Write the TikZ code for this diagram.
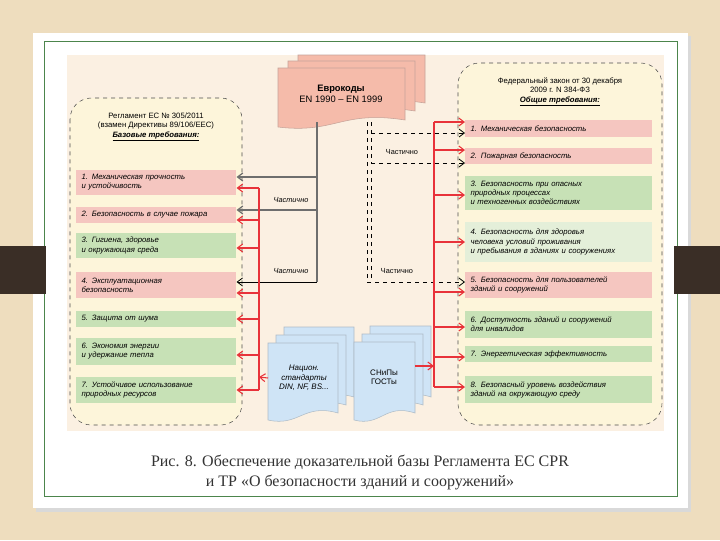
\documentclass[tikz,border=0pt]{standalone}
\usepackage{fontspec}
\setmainfont{Liberation Sans}
\newfontfamily\capfont{Liberation Serif}
\usetikzlibrary{arrows.meta}
\definecolor{woodc}{HTML}{EEDDBE}
\definecolor{diagbg}{HTML}{FBF0E2}
\definecolor{contc}{HTML}{FDF5DA}
\definecolor{pinkc}{HTML}{F5C6C0}
\definecolor{greenc}{HTML}{C7E1B6}
\definecolor{lgreenc}{HTML}{E4EFD9}
\definecolor{euroc}{HTML}{F5BBAA}
\definecolor{bluec}{HTML}{CFE4F6}
\definecolor{barc}{HTML}{3A2E26}
\definecolor{redc}{HTML}{E8323A}
\definecolor{grayc}{HTML}{6E6E6E}
\newcommand\mydoc[5]{% x1 y1 x2 y2 fill
  \filldraw[draw=#5!60!gray, fill=#5, line width=0.4pt]
    (#1,#2) -- (#3,#2) -- (#3,#4-4)
    .. controls ({#3-0.5*(#3-#1)},#4-14) and ({#1+0.45*(#3-#1)},#4+10) .. (#1,#4+3) -- cycle;}
\tikzset{
  item/.style={anchor=west, minimum width=120pt, text width=112pt, align=left, inner sep=3pt,
    font=\fontsize{5.8}{6.8}\selectfont\itshape},
  ritem/.style={item, minimum width=140pt, text width=132pt},
  ttl/.style={align=center, font=\fontsize{5.8}{7}\selectfont},
  cont/.style={draw=black!70, dashed, line width=0.4pt, rounded corners=16pt, fill=contc},
  redarr/.style={draw=redc, line width=0.8pt, -{Straight Barb[length=4pt,width=6pt]}},
  blkarr/.style={draw=black, line width=0.6pt, -{Straight Barb[length=4pt,width=6pt]}},
  gryarr/.style={draw=grayc, line width=0.9pt, -{Straight Barb[length=4pt,width=6pt]}},
  dasharr/.style={draw=black, dashed, line width=0.6pt, -{Straight Barb[length=4pt,width=6pt]}},
  lbl/.style={font=\fontsize{5.5}{6}\selectfont\itshape, inner sep=1pt},
}
\begin{document}
\begin{tikzpicture}[x=0.75pt,y=-0.75pt]
\useasboundingbox (0,0) rectangle (720,540);
\fill[woodc] (0,0) rectangle (720,540);
\fill[black!15] (36,36) rectangle (691,512);
\fill[white] (33,33) rectangle (688,508);
\draw[black!45!green!40!gray, line width=0.5pt] (44,41) rectangle (677,496);
\fill[barc] (0,246) rectangle (46,294);
\fill[barc] (674,246) rectangle (720,294);
\fill[diagbg] (67,55) rectangle (664,431);
% containers
\path[cont] (70,98) rectangle (242,425);
\path[cont] (458,63) rectangle (662,425);
\node[ttl] (ltitle) at (156,127) {Регламент ЕС № 305/2011\\(взамен Директивы 89/106/ЕЕС)\\\textbf{\textit{\underline{Базовые требования:}}}};
\node[ttl] (rtitle) at (560,92) {Федеральный закон от 30 декабря\\2009 г. N 384-ФЗ\\\textbf{\textit{\underline{Общие требования:}}}};
% left items
\node[item, fill=pinkc, minimum height=19pt] (l1) at (76,182.5) {1. Механическая прочность\\и устойчивость};
\node[item, fill=pinkc, minimum height=12pt] (l2) at (76,214.5) {2. Безопасность в случае пожара};
\node[item, fill=greenc, minimum height=19pt] (l3) at (76,245.5) {3. Гигиена, здоровье\\и окружающая среда};
\node[item, fill=pinkc, minimum height=19pt] (l4) at (76,285) {4. Эксплуатационная\\безопасность};
\node[item, fill=greenc, minimum height=12pt] (l5) at (76,319) {5. Защита от шума};
\node[item, fill=greenc, minimum height=20pt] (l6) at (76,351.5) {6. Экономия энергии\\и удержание тепла};
\node[item, fill=greenc, minimum height=20pt] (l7) at (76,390) {7. Устойчивое использование\\природных ресурсов};
% right items
\node[ritem, fill=pinkc, minimum height=13pt] (r1) at (465,128.5) {1. Механическая безопасность};
\node[ritem, fill=pinkc, minimum height=12pt] (r2) at (465,156) {2. Пожарная безопасность};
\node[ritem, fill=greenc, minimum height=26pt] (r3) at (465,193) {3. Безопасность при опасных\\природных процессах\\и техногенных воздействиях};
\node[ritem, fill=lgreenc, minimum height=30pt] (r4) at (465,242) {4. Безопасность для здоровья\\человека условий проживания\\и пребывания в зданиях и сооружениях};
\node[ritem, fill=pinkc, minimum height=19pt] (r5) at (465,285) {5. Безопасность для пользователей\\зданий и сооружений};
\node[ritem, fill=greenc, minimum height=20pt] (r6) at (465,324.5) {6. Доступность зданий и сооружений\\для инвалидов};
\node[ritem, fill=greenc, minimum height=12pt] (r7) at (465,354) {7. Энергетическая эффективность};
\node[ritem, fill=greenc, minimum height=20pt] (r8) at (465,389.5) {8. Безопасный уровень воздействия\\зданий на окружающую среду};
% eurocodes
\mydoc{298}{55}{425}{107}{euroc}
\mydoc{288}{61}{415}{115}{euroc}
\mydoc{278}{68}{405}{124}{euroc}
\node[ttl, font=\fontsize{7}{8.5}\selectfont] (euro) at (341,94) {\textbf{Еврокоды}\\EN 1990 – EN 1999};
% blue docs
\mydoc{284}{327}{354}{401}{bluec}
\mydoc{276}{335}{346}{409}{bluec}
\mydoc{268}{343}{338}{417}{bluec}
\node[ttl, font=\fontsize{6}{7}\selectfont\itshape] (nat) at (304,378) {Национ.\\стандарты\\DIN, NF, BS...};
\mydoc{370}{326}{431}{401}{bluec}
\mydoc{362}{334}{423}{409}{bluec}
\mydoc{354}{342}{415}{417}{bluec}
\node[ttl, font=\fontsize{6}{7}\selectfont] (snip) at (384,377) {СНиПы\\ГОСТы};
% gray / black from eurocodes to left
\coordinate (gtop) at (317,122);
\coordinate (gbot) at (317,282);
\draw[grayc, line width=0.9pt] (gtop) -- (gbot);
\draw[gryarr] (317,177) -- (l1.east |- 0,177);
\draw[gryarr] (317,210) -- (l2.east |- 0,210);
\draw[blkarr] (gbot) -- (l4.east |- 0,282);
\node[lbl] at (291,200) {Частично};
\node[lbl] at (291,271) {Частично};
% left red bus
\coordinate (lbt) at (259,188);
\coordinate (lbb) at (259,390);
\draw[redc, line width=0.8pt] (lbt) -- (lbb);
\draw[redarr] (lbt) -- (l1.east |- 0,188);
\draw[redarr] (259,220) -- (l2.east |- 0,220);
\draw[redarr] (259,248) -- (l3.east |- 0,248);
\draw[redarr] (259,293) -- (l4.east |- 0,293);
\draw[redarr] (259,319) -- (l5.east |- 0,319);
\draw[redarr] (259,355) -- (l6.east |- 0,355);
\draw[redarr] (lbb) -- (l7.east |- 0,390);
\draw[redarr] (nat.west -| 268,377) -- (259,377);
% dashed double line to right
\draw[black, dashed, line width=0.6pt] (367,122) -- (367,282);
\draw[black, dashed, line width=0.6pt] (371,122) -- (371,163);
\draw[black, dashed, line width=0.6pt] (371,170) -- (371,280);
\draw[dasharr] (371,133) -- (r1.west |- 0,133);
\draw[dasharr] (371,163) -- (r2.west |- 0,163);
\draw[dasharr] (367,282) -- (r5.west |- 0,282);
\node[lbl, font=\fontsize{5.5}{6}\selectfont] at (402,152) {Частично};
\node[lbl, font=\fontsize{5.5}{6}\selectfont] at (397,271) {Частично};
% right red bus
\coordinate (rbt) at (434,122);
\coordinate (rbb) at (434,387);
\draw[redc, line width=0.8pt] (rbt) -- (rbb);
\draw[redarr] (rbt) -- (r1.west |- 0,122);
\draw[redarr] (434,150) -- (r2.west |- 0,150);
\draw[redarr] (434,195) -- (r3.west |- 0,195);
\draw[redarr] (434,242) -- (r4.west |- 0,242);
\draw[redarr] (434,292) -- (r5.west |- 0,292);
\draw[redarr] (434,327) -- (r6.west |- 0,327);
\draw[redarr] (434,357) -- (r7.west |- 0,357);
\draw[redarr] (rbb) -- (r8.west |- 0,387);
\draw[redarr] (415,366) -- (434,366);
% caption
\node[font=\capfont\fontsize{12}{15}\selectfont, align=center, text=black!80] (cap) at (360,472) {Рис. 8. Обеспечение доказательной базы Регламента ЕС CPR\\и ТР «О безопасности зданий и сооружений»};
\end{tikzpicture}
\end{document}
